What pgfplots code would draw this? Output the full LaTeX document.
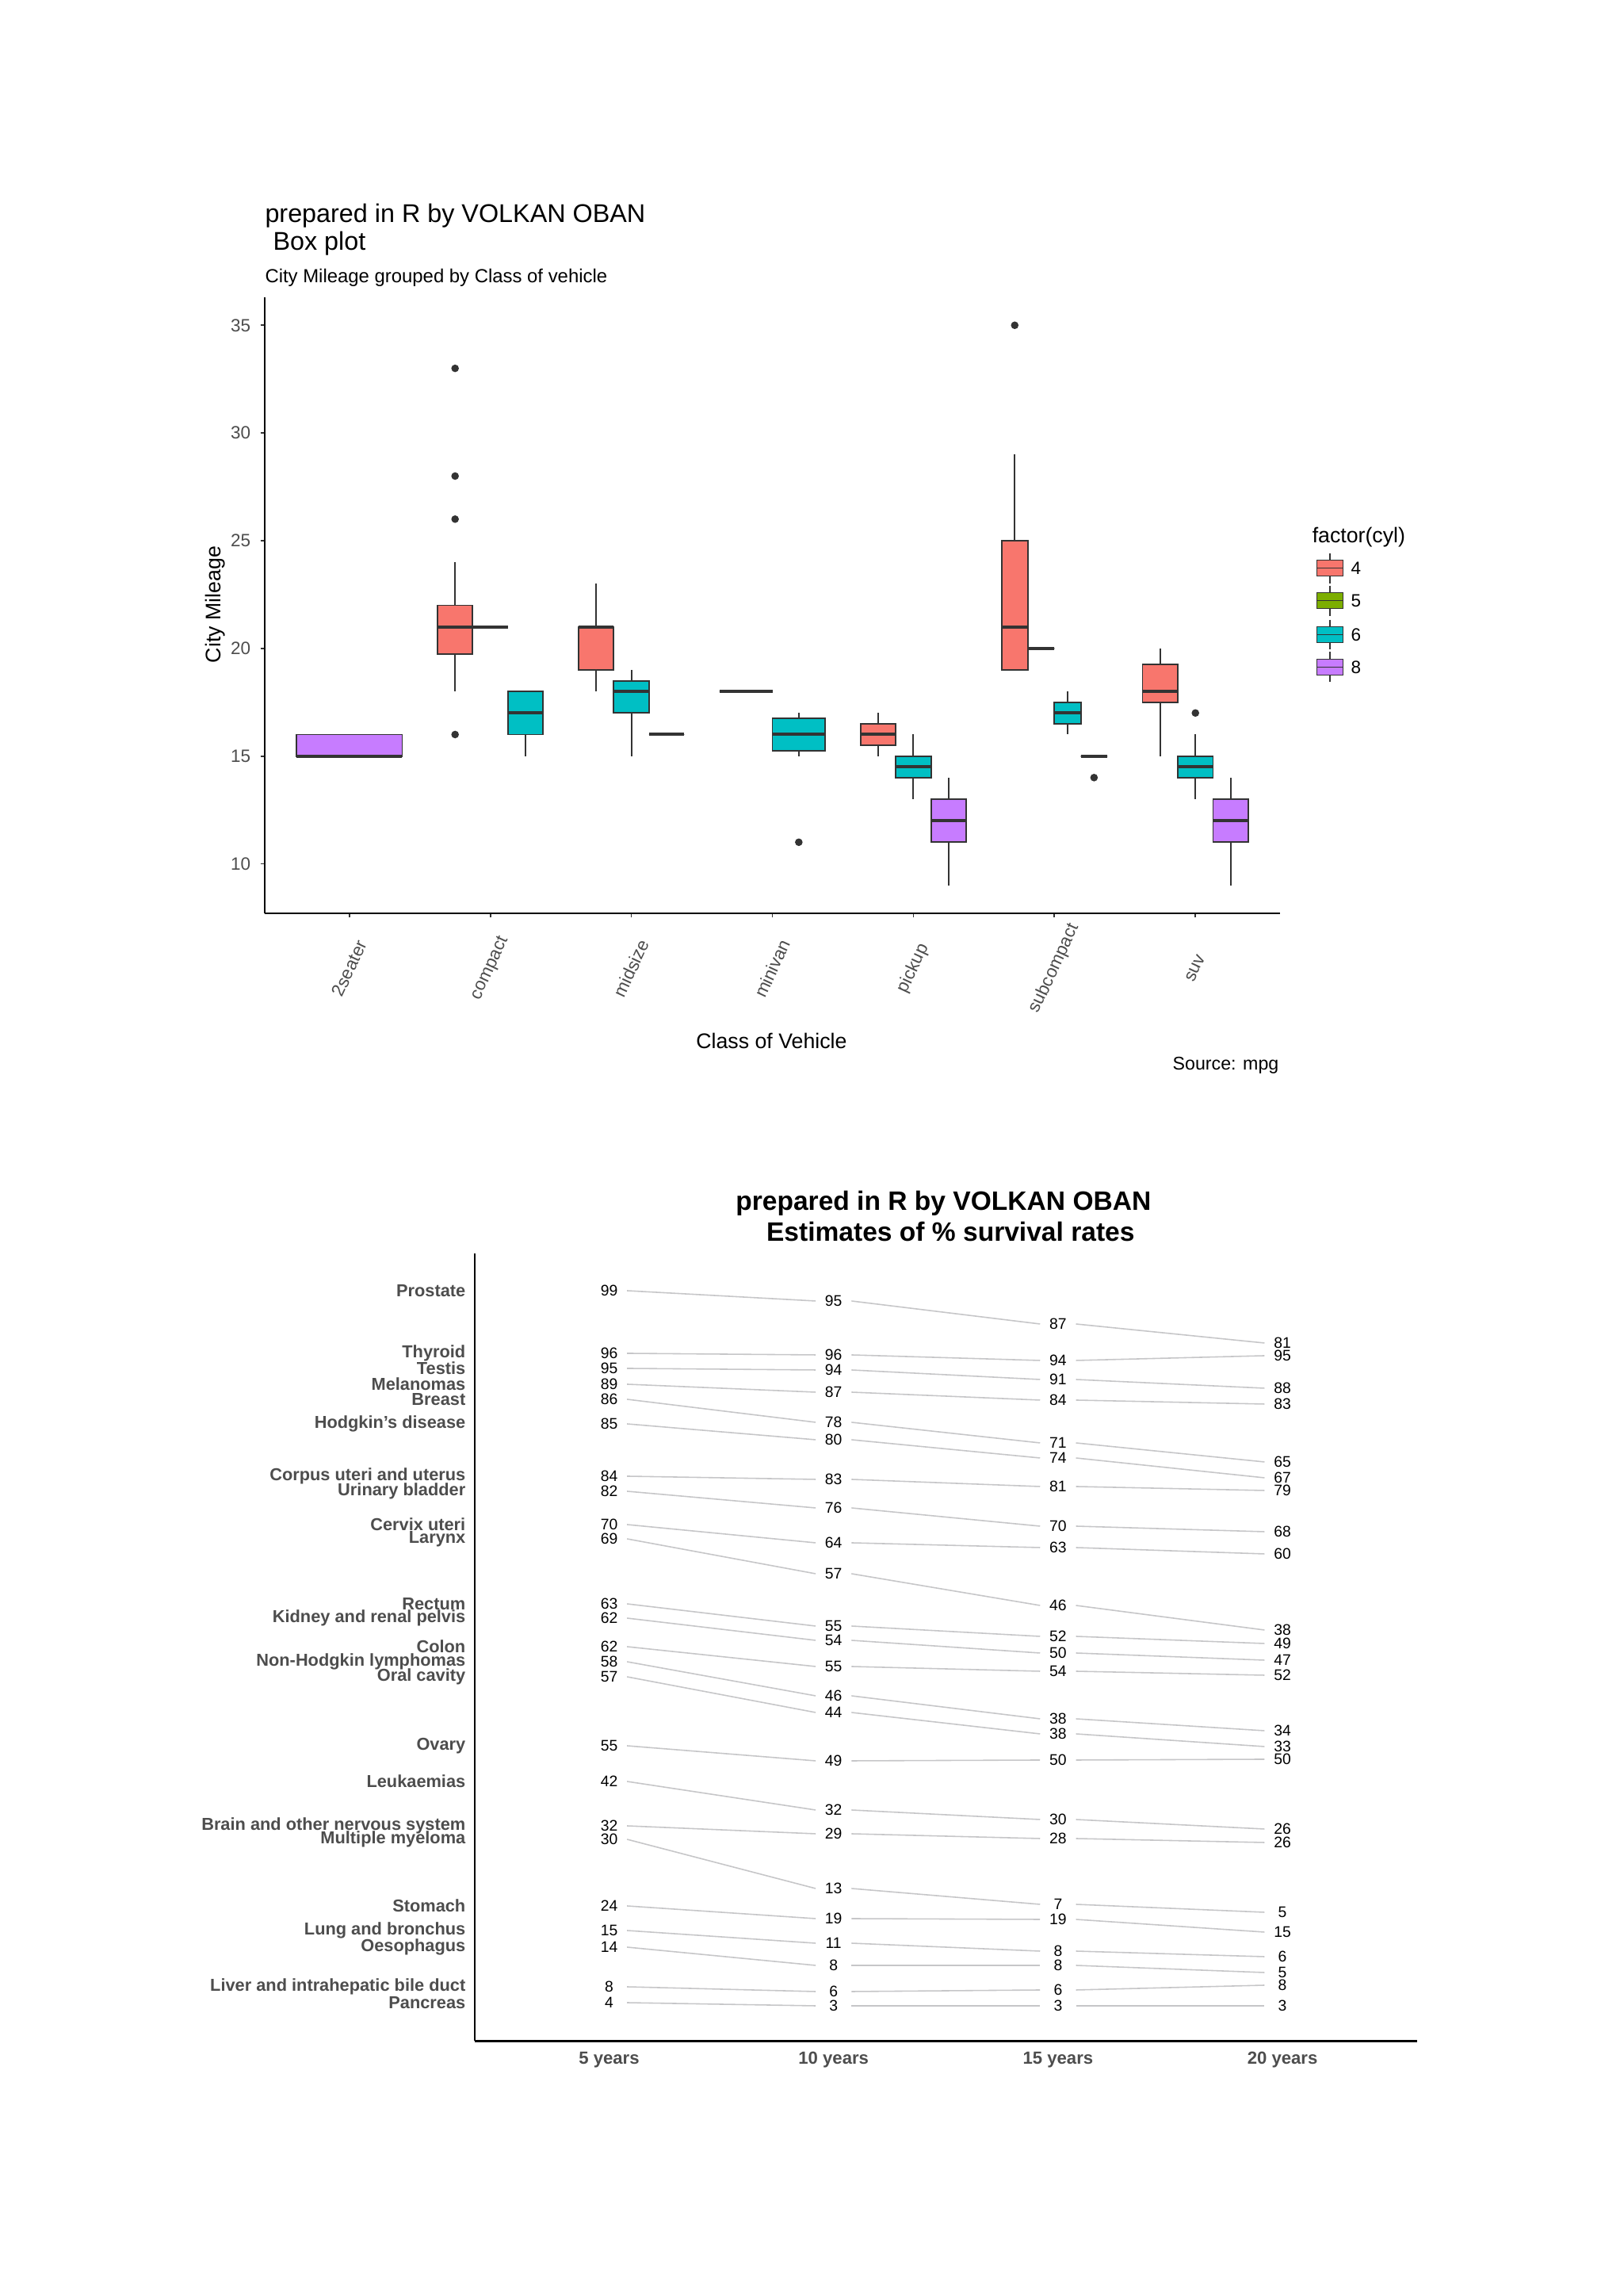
\documentclass[border=0pt]{standalone}
\usepackage{fontspec}
\setmainfont{Liberation Sans}
\usepackage{pgfplots}
\pgfplotsset{compat=1.18}
\usepackage{pgfplotstable}
\usepgfplotslibrary{statistics}

\definecolor{c4}{HTML}{F8766D}
\definecolor{c5}{HTML}{7CAE00}
\definecolor{c6}{HTML}{00BFC4}
\definecolor{c8}{HTML}{C77CFF}
\definecolor{g20}{HTML}{333333}
\definecolor{g30}{HTML}{4D4D4D}
\definecolor{slope}{HTML}{C6C6C8}

% slopegraph: p* = vertical layout position of each label (page px from bottom), v* = survival %
\pgfplotstableread[col sep=comma]{
name,p5,p10,p15,p20,v5,v10,v15,v20
Prostate,1268,1255,1226,1202,99,95,87,81
Thyroid,1189,1187,1180,1186,96,96,94,95
Testis,1170,1168,1156,1145,95,94,91,88
Melanomas,1150,1140,1130,1125,89,87,84,83
Breast,1131,1102,1076,1052,86,78,71,65
Hodgkin's disease,1100,1080,1057,1032,85,80,74,67
Corpus uteri and uterus,1034,1030,1021,1016,84,83,81,79
Urinary bladder,1015,994,971,964,82,76,70,68
Cervix uteri,973,950,944,936,70,64,63,60
Larynx,955,911,871,840,69,57,46,38
Rectum,873,845,832,823,63,55,52,49
Kidney and renal pelvis,855,827,811,802,62,54,50,47
Colon,819,794,788,783,62,55,54,52
Non-Hodgkin lymphomas,800,757,728,713,58,46,38,34
Oral cavity,781,736,709,693,57,44,38,33
Ovary,694,675,676,677,55,49,50,50
Leukaemias,649,613,601,589,42,32,30,26
Brain and other nervous system,593,583,577,572,32,29,28,26
Multiple myeloma,576,514,494,484,30,13,7,5
Stomach,492,476,475,459,24,19,19,15
Lung and bronchus,461,445,435,428,15,11,8,6
Oesophagus,440,417,417,408,14,8,8,5
Liver and intrahepatic bile duct,390,384,386,392,8,6,6,8
Pancreas,370,366,366,366,4,3,3,3
}\survival

\pgfplotsset{
  bx/.style={draw=g20, line width=0.55pt,
    boxplot/whisker extend=0,
    boxplot/every median/.style={line width=1.15pt}},
  numlab/.style={draw=none, mark=none, nodes near coords, point meta=explicit symbolic,
    every node near coord/.append style={anchor=center, inner sep=0pt, text=black,
      font=\fontsize{5.5}{6}\selectfont}},
  seg/.style={slope, line width=0.45pt},
}

\begin{document}
\begin{tikzpicture}
\path[use as bounding box] (0,0) rectangle (20.48,28.96);

% ---------------- box plot ----------------
\begin{axis}[
  at={(3.34cm,17.44cm)}, anchor=south west,
  scale only axis, width=12.81cm, height=7.77cm,
  xmin=0.4, xmax=7.6, ymin=7.7, ymax=36.3,
  axis x line*=bottom, axis y line*=left,
  axis line style={-, line width=0.6pt, black},
  tick align=outside, major tick length=0.055cm,
  tick style={g20, line width=0.5pt},
  xtick={1,...,7},
  xticklabels={2seater,compact,midsize,minivan,pickup,subcompact,suv},
  ytick={10,15,...,35},
  /pgf/number format/assume math mode=true,
  tick label style={font=\fontsize{6.4}{7}\selectfont, text=g30},
  xticklabel style={yshift=-0.64cm, rotate=65, anchor=center},
  boxplot/draw direction=y,
  clip=false,
]
\addplot[bx, fill=c8, boxplot prepared={draw position=1, box extend=0.75,
  lower whisker=15, lower quartile=15, median=15, upper quartile=16, upper whisker=16}] coordinates {};
\addplot[bx, fill=c4, boxplot prepared={draw position=1.75, box extend=0.25,
  lower whisker=18, lower quartile=19.75, median=21, upper quartile=22, upper whisker=24}] coordinates {};
\addplot[bx, fill=c5, boxplot prepared={draw position=2, box extend=0.25,
  lower whisker=21, lower quartile=21, median=21, upper quartile=21, upper whisker=21}] coordinates {};
\addplot[bx, fill=c6, boxplot prepared={draw position=2.25, box extend=0.25,
  lower whisker=15, lower quartile=16, median=17, upper quartile=18, upper whisker=18}] coordinates {};
\addplot[bx, fill=c4, boxplot prepared={draw position=2.75, box extend=0.25,
  lower whisker=18, lower quartile=19, median=21, upper quartile=21, upper whisker=23}] coordinates {};
\addplot[bx, fill=c6, boxplot prepared={draw position=3, box extend=0.25,
  lower whisker=15, lower quartile=17, median=18, upper quartile=18.5, upper whisker=19}] coordinates {};
\addplot[bx, fill=c8, boxplot prepared={draw position=3.25, box extend=0.25,
  lower whisker=16, lower quartile=16, median=16, upper quartile=16, upper whisker=16}] coordinates {};
\addplot[bx, fill=c4, boxplot prepared={draw position=3.8125, box extend=0.375,
  lower whisker=18, lower quartile=18, median=18, upper quartile=18, upper whisker=18}] coordinates {};
\addplot[bx, fill=c6, boxplot prepared={draw position=4.1875, box extend=0.375,
  lower whisker=15, lower quartile=15.25, median=16, upper quartile=16.75, upper whisker=17}] coordinates {};
\addplot[bx, fill=c4, boxplot prepared={draw position=4.75, box extend=0.25,
  lower whisker=15, lower quartile=15.5, median=16, upper quartile=16.5, upper whisker=17}] coordinates {};
\addplot[bx, fill=c6, boxplot prepared={draw position=5, box extend=0.25,
  lower whisker=13, lower quartile=14, median=14.5, upper quartile=15, upper whisker=16}] coordinates {};
\addplot[bx, fill=c8, boxplot prepared={draw position=5.25, box extend=0.25,
  lower whisker=9, lower quartile=11, median=12, upper quartile=13, upper whisker=14}] coordinates {};
\addplot[bx, fill=c4, boxplot prepared={draw position=5.71875, box extend=0.1875,
  lower whisker=19, lower quartile=19, median=21, upper quartile=25, upper whisker=29}] coordinates {};
\addplot[bx, fill=c5, boxplot prepared={draw position=5.90625, box extend=0.1875,
  lower whisker=20, lower quartile=20, median=20, upper quartile=20, upper whisker=20}] coordinates {};
\addplot[bx, fill=c6, boxplot prepared={draw position=6.09375, box extend=0.1875,
  lower whisker=16, lower quartile=16.5, median=17, upper quartile=17.5, upper whisker=18}] coordinates {};
\addplot[bx, fill=c8, boxplot prepared={draw position=6.28125, box extend=0.1875,
  lower whisker=15, lower quartile=15, median=15, upper quartile=15, upper whisker=15}] coordinates {};
\addplot[bx, fill=c4, boxplot prepared={draw position=6.75, box extend=0.25,
  lower whisker=15, lower quartile=17.5, median=18, upper quartile=19.25, upper whisker=20}] coordinates {};
\addplot[bx, fill=c6, boxplot prepared={draw position=7, box extend=0.25,
  lower whisker=13, lower quartile=14, median=14.5, upper quartile=15, upper whisker=16}] coordinates {};
\addplot[bx, fill=c8, boxplot prepared={draw position=7.25, box extend=0.25,
  lower whisker=9, lower quartile=11, median=12, upper quartile=13, upper whisker=14}] coordinates {};
% outliers
\addplot[only marks, mark=*, mark size=1.15pt, g20] coordinates {
  (1.75,33) (1.75,28) (1.75,26) (1.75,16)
  (4.1875,11) (5.71875,35) (6.28125,14) (7,17)
};
\end{axis}

% ---------------- slopegraph ----------------
\begin{axis}[
  at={(5.986cm,3.215cm)}, anchor=south west,
  scale only axis, width=11.894cm, height=9.935cm,
  xmin=0.4, xmax=4.6, ymin=321.5, ymax=1315,
  axis x line*=bottom, axis y line*=left,
  axis line style={-, line width=0.6pt, black},
  major tick length=0pt,
  xtick={1,2,3,4},
  xticklabels={5 years,10 years,15 years,20 years},
  xticklabel style={font=\bfseries\fontsize{6.3}{7}\selectfont, text=g30,
    anchor=center, yshift=-0.235cm},
  ytick={370,390,440,461,492,576,593,649,694,781,800,819,855,873,955,973,1015,1034,1100,1131,1150,1170,1189,1268},
  yticklabels={Pancreas,Liver and intrahepatic bile duct,Oesophagus,Lung and bronchus,Stomach,
    Multiple myeloma,Brain and other nervous system,Leukaemias,Ovary,Oral cavity,
    Non-Hodgkin lymphomas,Colon,Kidney and renal pelvis,Rectum,Larynx,Cervix uteri,
    Urinary bladder,Corpus uteri and uterus,Hodgkin's disease,Breast,Melanomas,Testis,Thyroid,Prostate},
  yticklabel style={font=\bfseries\fontsize{6.2}{7}\selectfont, text=g30,
    anchor=east, inner sep=0pt, xshift=-0.106cm},
  clip=false,
]
\addplot[seg, quiver={u=0.84, v=\thisrow{p10}-\thisrow{p5}}] table[x expr=1.08, y=p5] {\survival};
\addplot[seg, quiver={u=0.84, v=\thisrow{p15}-\thisrow{p10}}] table[x expr=2.08, y=p10] {\survival};
\addplot[seg, quiver={u=0.84, v=\thisrow{p20}-\thisrow{p15}}] table[x expr=3.08, y=p15] {\survival};
\addplot[numlab] table[x expr=1, y=p5, meta=v5] {\survival};
\addplot[numlab] table[x expr=2, y=p10, meta=v10] {\survival};
\addplot[numlab] table[x expr=3, y=p15, meta=v15] {\survival};
\addplot[numlab] table[x expr=4, y=p20, meta=v20] {\survival};
\end{axis}

% ---------------- titles, labels, legend (page px, y down) ----------------
\begin{scope}[shift={(0,28.96)}, x=0.01cm, y=-0.01cm]
\node[anchor=west, inner sep=0pt, font=\fontsize{9.2}{11}\selectfont] at (334,272) {prepared in R by VOLKAN OBAN};
\node[anchor=west, inner sep=0pt, font=\fontsize{9.2}{11}\selectfont] at (344,307) {Box plot};
\node[anchor=west, inner sep=0pt, font=\fontsize{6.8}{8}\selectfont] at (334,351) {City Mileage grouped by Class of vehicle};
\node[rotate=90, inner sep=0pt, font=\fontsize{7.6}{9}\selectfont] at (272,763) {City Mileage};
\node[inner sep=0pt, font=\fontsize{7.6}{9}\selectfont] at (974,1314) {Class of Vehicle};
\node[anchor=east, inner sep=0pt, font=\fontsize{6.6}{8}\selectfont] at (1615,1345) {Source: mpg};

\node[anchor=west, inner sep=0pt, font=\fontsize{7.6}{9}\selectfont] at (1656,678) {factor(cyl)};
\foreach \c/\l/\y in {c4/4/717, c5/5/758, c6/6/801, c8/8/842} {
  \draw[g20, line width=0.5pt] (1679,\y-19) -- (1679,\y+19);
  \filldraw[fill=\c, draw=g20, line width=0.5pt] (1662.5,\y-10) rectangle (1695.5,\y+10);
  \draw[g20, line width=0.5pt] (1662.5,\y) -- (1695.5,\y);
  \node[anchor=west, inner sep=0pt, font=\fontsize{6.4}{8}\selectfont] at (1705,\y) {\l};
}

\node[inner sep=0pt, font=\bfseries\fontsize{9.55}{11}\selectfont] at (1191,1519) {prepared in R by VOLKAN OBAN};
\node[inner sep=0pt, font=\bfseries\fontsize{9.55}{11}\selectfont] at (1200,1554) {Estimates of \% survival rates};
\end{scope}
\end{tikzpicture}
\end{document}
